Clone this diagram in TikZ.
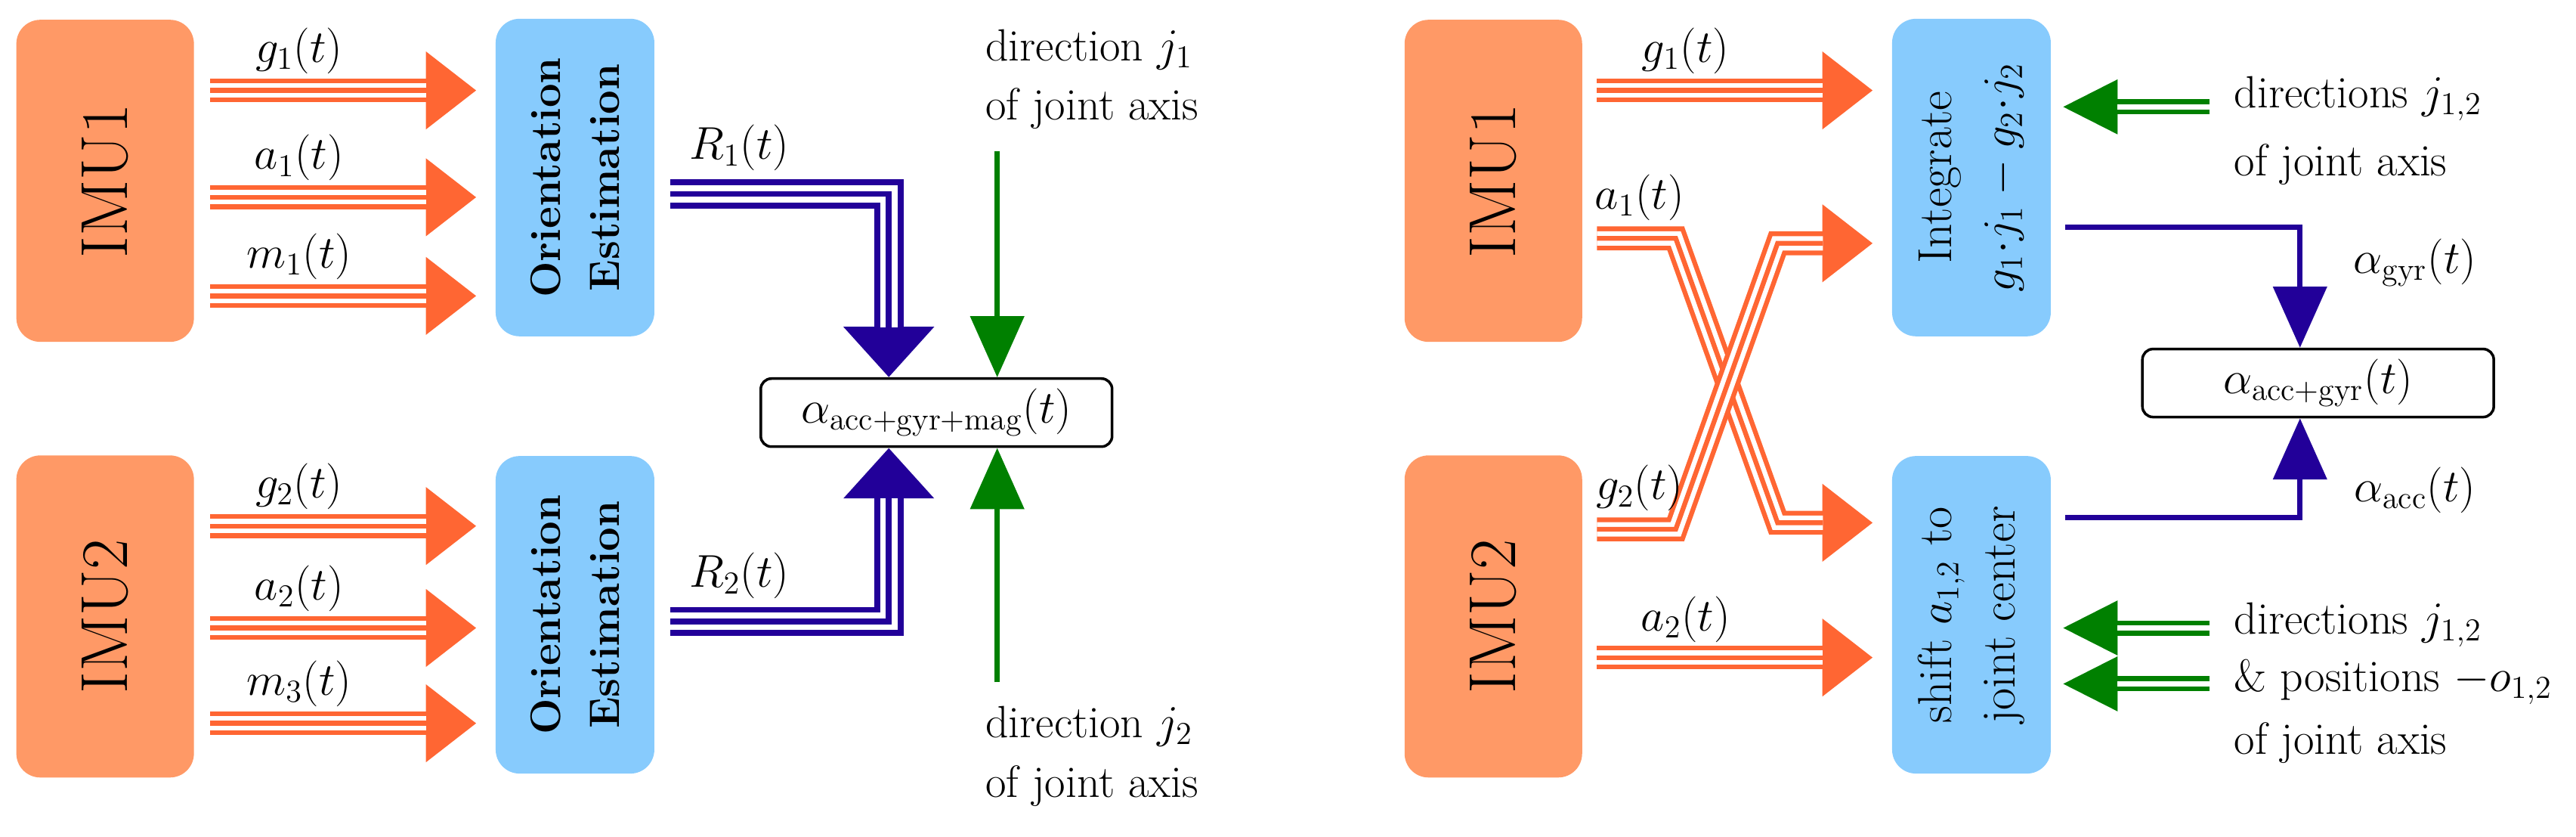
\documentclass[tikz,border=0pt]{standalone}
\usepackage{amsmath}
\usetikzlibrary{arrows.meta}
\definecolor{imuorange}{HTML}{FF9966}
\definecolor{arrorange}{HTML}{FF6633}
\definecolor{procblue}{HTML}{87CBFD}
\definecolor{resblue}{HTML}{220099}
\definecolor{axisgreen}{HTML}{008000}
\tikzset{
  imu/.style={rectangle, rounded corners=9pt, fill=imuorange, minimum width=4.26cm, minimum height=2.35cm, rotate=90, font=\fontsize{25}{30}\selectfont},
  proc/.style={rectangle, rounded corners=9pt, fill=procblue, minimum width=4.2cm, minimum height=2.1cm, rotate=90, align=center, font=\fontsize{18}{24}\selectfont},
  result/.style={rectangle, rounded corners=4pt, draw, line width=1pt, minimum width=4.65cm, minimum height=0.9cm},
  single/.style={line width=2pt, -{Triangle[width=20pt,length=23pt]}},
  lbl/.style={inner sep=1pt}
}
% three parallel stripes, one head
\newcommand{\tripconn}[4]{%
  \draw[#1, line width=#4*5, -{Triangle[width=#3,length=19pt]}] #2;
  \draw[white, line width=#4*3, shorten >=18.8pt] #2;
  \draw[#1, line width=#4, shorten >=18.8pt] #2;}
% two parallel stripes, one head
\newcommand{\dblconn}[2]{%
  \draw[#1, line width=5.7pt, -{Triangle[width=19pt,length=21pt]}] #2;
  \draw[white, line width=1.9pt, shorten >=20.8pt] #2;}
\begin{document}
\begin{tikzpicture}[x=0.02174cm, y=-0.02174cm, font=\fontsize{17}{20}\selectfont, line join=miter]
  \useasboundingbox (0,0) rectangle (1568,509);

  % left: orientation based
  \node[imu] (imuA) at (64,110) {IMU1};
  \node[imu] (imuB) at (64,375) {IMU2};
  \node[proc, font=\fontsize{16}{22}\selectfont\bfseries] (oriA) at (350,108) {Orientation\\Estimation};
  \node[proc, font=\fontsize{16}{22}\selectfont\bfseries] (oriB) at (350,374) {Orientation\\Estimation};
  \node[result] (resL) at (570,251) {$\alpha_{\text{acc+gyr+mag}}(t)$};

  \foreach \y/\lab [count=\i] in {55/g_1(t), 120/a_1(t), 180/m_1(t)} {
    \coordinate (sA\i) at (128,\y);
    \coordinate (eA\i) at (290,\y);
    \tripconn{arrorange}{(sA\i) -- (eA\i)}{28pt}{1.8pt}
    \node[lbl] at (182,\y-24) {$\lab$};
  }
  \foreach \y/\lab [count=\i] in {320/g_2(t), 382/a_2(t), 440/m_3(t)} {
    \coordinate (sB\i) at (128,\y);
    \coordinate (eB\i) at (290,\y);
    \tripconn{arrorange}{(sB\i) -- (eB\i)}{28pt}{1.8pt}
    \node[lbl] at (182,\y-24) {$\lab$};
  }

  \coordinate (rA) at (408,118);
  \coordinate (rB) at (408,378);
  \coordinate (rAe) at (541,0);
  \tripconn{resblue}{(rA) -| (rAe |- resL.north)}{33pt}{2.2pt}
  \tripconn{resblue}{(rB) -| (rAe |- resL.south)}{33pt}{2.2pt}
  \node[lbl] at (450,90) {$R_1(t)$};
  \node[lbl] at (450,350) {$R_2(t)$};

  \coordinate (jA) at (607,92);
  \coordinate (jB) at (607,415);
  \draw[axisgreen, single] (jA) -- (jA |- resL.north);
  \draw[axisgreen, single] (jB) -- (jB |- resL.south);
  \node[lbl, anchor=west] at (598,30) {direction $j_1$};
  \node[lbl, anchor=west] at (598,66) {of joint axis};
  \node[lbl, anchor=west] at (598,442) {direction $j_2$};
  \node[lbl, anchor=west] at (598,478) {of joint axis};

  % right: gyroscope and accelerometer based
  \node[imu] (imuC) at (909,110) {IMU1};
  \node[imu] (imuD) at (909,375) {IMU2};
  \node[proc] (intg) at (1200,108) {Integrate\\$g_1{\cdot}j_1 - g_2{\cdot}j_2$};
  \node[proc] (shft) at (1200,374) {shift $a_{1,2}$ to\\joint center};
  \node[result] (resR) at (1411,233) {$\alpha_{\text{acc+gyr}}(t)$};

  \coordinate (g1s) at (972,55);
  \coordinate (a1s) at (972,145);
  \coordinate (g2s) at (972,322);
  \coordinate (a2s) at (972,400);
  \tripconn{arrorange}{(g1s) -- (1140,55)}{28pt}{1.8pt}
  \tripconn{arrorange}{(a1s) -- (1020,145) -- (1082,318) -- (1140,318)}{28pt}{1.8pt}
  \tripconn{arrorange}{(g2s) -- (1020,322) -- (1082,148) -- (1140,148)}{28pt}{1.8pt}
  \tripconn{arrorange}{(a2s) -- (1140,400)}{28pt}{1.8pt}
  \node[lbl] at (1026,31) {$g_1(t)$};
  \node[lbl] at (998,120) {$a_1(t)$};
  \node[lbl] at (998,297) {$g_2(t)$};
  \node[lbl] at (1026,377) {$a_2(t)$};

  \coordinate (dA) at (1345,65);
  \coordinate (dB) at (1345,382);
  \coordinate (dC) at (1345,416);
  \dblconn{axisgreen}{(dA) -- (1255,65)}
  \dblconn{axisgreen}{(dB) -- (1255,382)}
  \dblconn{axisgreen}{(dC) -- (1255,416)}
  \node[lbl, anchor=west] at (1358,60) {directions $j_{1,2}$};
  \node[lbl, anchor=west] at (1358,100) {of joint axis};
  \node[lbl, anchor=west] at (1358,380) {directions $j_{1,2}$};
  \node[lbl, anchor=west] at (1358,415) {\& positions $-o_{1,2}$};
  \node[lbl, anchor=west] at (1358,452) {of joint axis};

  \coordinate (gyS) at (1257,138);
  \coordinate (acS) at (1257,315);
  \coordinate (resX) at (1400,0);
  \draw[resblue, single] (gyS) -| (resX |- resR.north);
  \draw[resblue, single] (acS) -| (resX |- resR.south);
  \node[lbl] at (1470,160) {$\alpha_{\text{gyr}}(t)$};
  \node[lbl] at (1470,298) {$\alpha_{\text{acc}}(t)$};
\end{tikzpicture}
\end{document}
